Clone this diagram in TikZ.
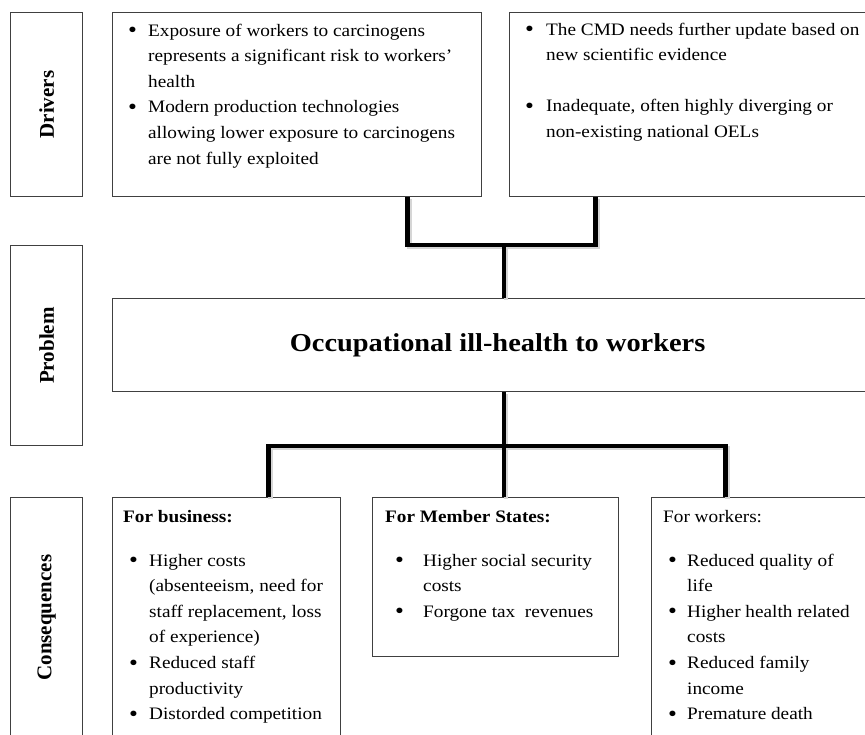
\documentclass[tikz,border=0pt]{standalone}
\usepackage{fontspec}
\setmainfont[FakeStretch=1.1]{Liberation Serif}
\newfontfamily\labfont{Liberation Serif}
\usetikzlibrary{positioning}

% bullet with its indent, and the hanging indent of follow-on lines
\newcommand{\bul}[2]{\hspace*{#1}\makebox[#2][l]{\raisebox{-1.5pt}{\fontsize{23}{0}\selectfont\textbullet}}}
\newcommand{\ind}[1]{\hspace*{#1}}

\tikzset{
  box/.style={draw=black!75, line width=1.2pt, inner sep=0pt, anchor=north west},
  txt/.style={anchor=north west, inner sep=0pt, align=left, font=\fontsize{17.5}{25.6}\selectfont},
  lab/.style={rotate=90, font=\labfont\bfseries\fontsize{21}{24}\selectfont},
  link/.style={line width=4.5pt, preaction={draw=black!16, line width=4.5pt, transform canvas={shift={(1.8pt,-1.8pt)}}}},
}

\begin{document}
\begin{tikzpicture}[x=1pt, y=-1pt]
\useasboundingbox (0,0) rectangle (865,735);
\clip (0,0) rectangle (865,735);

% Row labels
\node[box, minimum width=72pt, minimum height=184pt] (lbdrv) at (10,12) {};
\node[lab] at (lbdrv) {Drivers};
\node[box, minimum width=72pt, minimum height=200pt] (lbprb) at (10,245) {};
\node[lab] at (lbprb) {Problem};
\node[box, minimum width=72pt, minimum height=240pt] (lbcon) at (10,497) {};
\node[lab] at (lbcon) {Consequences};

% Drivers
\node[box, minimum width=369pt, minimum height=184pt] (drv1) at (112,12) {};
\node[txt, below right=6pt and 16pt of drv1.north west] (drvtxt1) {%
\strut\bul{0pt}{20pt}Exposure of workers to carcinogens\\
\ind{20pt}represents a significant risk to workers'\\
\ind{20pt}health\\
\bul{0pt}{20pt}Modern production technologies\\
\ind{20pt}allowing lower exposure to carcinogens\\
\ind{20pt}are not fully exploited};

\node[box, minimum width=372pt, minimum height=184pt] (drv2) at (509,12) {};
\node[txt, below right=5pt and 16pt of drv2.north west] (drvtxt2) {%
\strut\bul{0pt}{21pt}The CMD needs further update based on\\
\ind{21pt}new scientific evidence\\[25.6pt]
\bul{0pt}{21pt}Inadequate, often highly diverging or\\
\ind{21pt}non-existing national OELs};

% Problem
\node[box, minimum width=770pt, minimum height=93pt,
      font=\bfseries\fontsize{25.8}{30}\selectfont] (prob) at (112,298)
      {Occupational ill-health to workers};

% Consequences
\node[box, minimum width=228pt, minimum height=260pt] (cbus) at (112,497) {};
\node[txt, below right=7pt and 11pt of cbus.north west] (bustxt) {%
\strut\textbf{For business:}\\[18.4pt]
\bul{6pt}{20pt}Higher costs\\
\ind{26pt}(absenteeism, need for\\
\ind{26pt}staff replacement, loss\\
\ind{26pt}of experience)\\
\bul{6pt}{20pt}Reduced staff\\
\ind{26pt}productivity\\
\bul{6pt}{20pt}Distorded competition};

\node[box, minimum width=246pt, minimum height=159pt] (cms) at (372,497) {};
\node[txt, below right=7pt and 13pt of cms.north west] (mstxt) {%
\strut\textbf{For Member States:}\\[18.4pt]
\bul{10pt}{28pt}Higher social security\\
\ind{38pt}costs\\
\bul{10pt}{28pt}Forgone tax\ \ revenues};

\node[box, minimum width=230pt, minimum height=260pt] (cwrk) at (651,497) {};
\node[txt, below right=7pt and 12pt of cwrk.north west] (wrktxt) {%
\strut For workers:\\[18.4pt]
\bul{5pt}{19pt}Reduced quality of\\
\ind{24pt}life\\
\bul{5pt}{19pt}Higher health related\\
\ind{24pt}costs\\
\bul{5pt}{19pt}Reduced family\\
\ind{24pt}income\\
\bul{5pt}{19pt}Premature death};

% Connectors
\coordinate (jdrv) at (504,245);
\coordinate (jcon) at (504,446);
\draw[link] ([xshift=110.5pt]drv1.south) |- (jdrv) -| ([xshift=-100pt]drv2.south);
\draw[link] (jdrv) -- (jdrv |- prob.north);
\draw[link] (prob.south -| jcon) -- (jcon);
\draw[link] ([xshift=42pt]cbus.north) |- (jcon) -| ([xshift=-41pt]cwrk.north);
\draw[link] (jcon) -- (jcon |- cms.north);
\end{tikzpicture}
\end{document}
